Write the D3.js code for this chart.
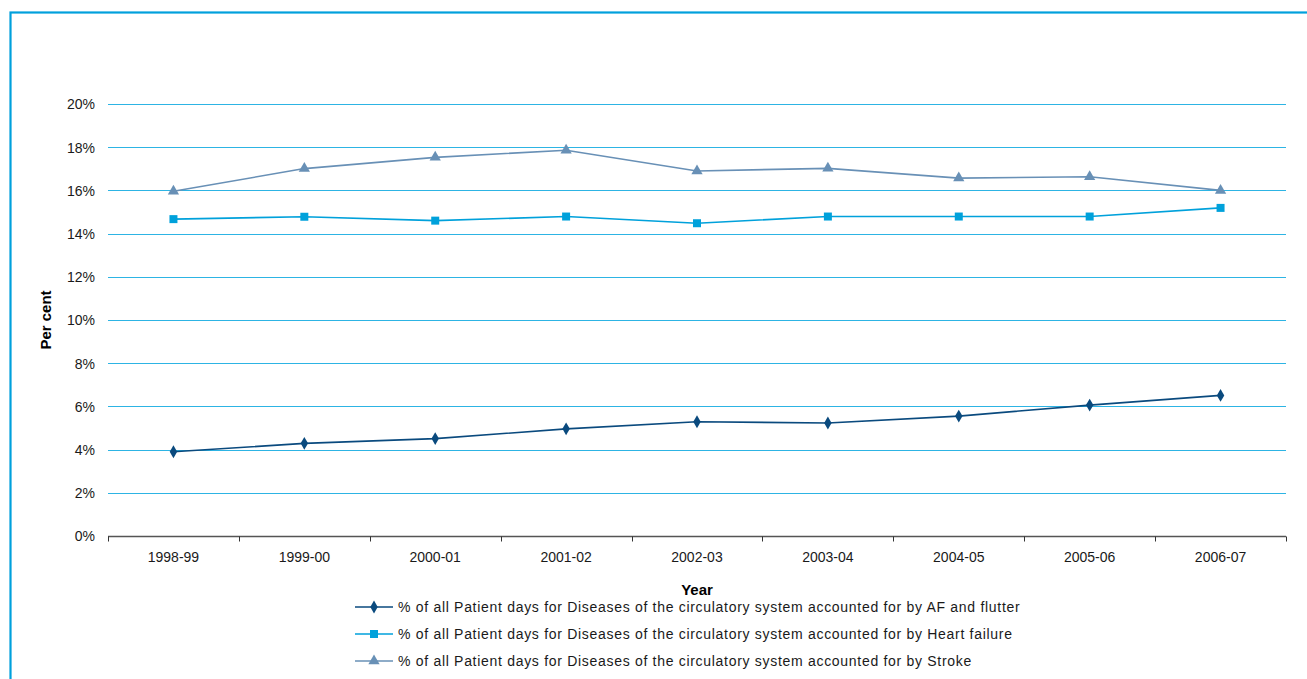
<!DOCTYPE html>
<html>
<head>
<meta charset="utf-8">
<script src="https://cdn.jsdelivr.net/npm/d3@7"></script>
<style>
  html, body { margin: 0; padding: 0; background: #ffffff; overflow: hidden; }
  svg { display: block; font-family: "Liberation Sans", Arial, sans-serif; }
</style>
</head>
<body>
<svg id="chart" width="1307" height="679"></svg>
<script>
// Financial years on the category axis
const years = ["1998-99", "1999-00", "2000-01", "2001-02", "2002-03", "2003-04", "2004-05", "2005-06", "2006-07"];

// Share (%) of all patient days for diseases of the circulatory system
const afFlutter    = [3.9, 4.29, 4.51, 4.96, 5.29, 5.23, 5.55, 6.06, 6.51];
const heartFailure = [14.67, 14.78, 14.6, 14.79, 14.48, 14.79, 14.79, 14.79, 15.19];
const stroke       = [15.96, 17.01, 17.53, 17.86, 16.9, 17.02, 16.57, 16.63, 16.0];

const yTicks = [0, 2, 4, 6, 8, 10, 12, 14, 16, 18, 20];

const seriesNames = [
  "% of all Patient days for Diseases of the circulatory system accounted for by AF and flutter",
  "% of all Patient days for Diseases of the circulatory system accounted for by Heart failure",
  "% of all Patient days for Diseases of the circulatory system accounted for by Stroke"
];

const series = [
  { name: seriesNames[0], values: afFlutter,    color: "#0A4A7E", symbol: d3.symbolDiamond,  size: 48 },
  { name: seriesNames[1], values: heartFailure, color: "#00A1DB", symbol: d3.symbolSquare,   size: 64 },
  { name: seriesNames[2], values: stroke,       color: "#6890B6", symbol: d3.symbolTriangle, size: 55 }
];

const svg = d3.select("#chart");

// Outer frame
svg.append("rect")
  .attr("x", 10.5).attr("y", 12.5)
  .attr("width", 1320).attr("height", 700)
  .attr("fill", "none")
  .attr("stroke", "#00A0DC")
  .attr("stroke-width", 2.2);

const plot = { left: 108, right: 1286, top: 104, bottom: 536 };

const x = d3.scaleBand().domain(years).range([plot.left, plot.right]).padding(0);
const y = d3.scaleLinear().domain([0, 20]).range([plot.bottom, plot.top]);

// Horizontal gridlines
svg.append("g")
  .selectAll("line")
  .data(yTicks.filter(t => t > 0))
  .join("line")
  .attr("x1", plot.left).attr("x2", plot.right)
  .attr("y1", d => Math.round(y(d)) + 0.5).attr("y2", d => Math.round(y(d)) + 0.5)
  .attr("stroke", "#2DB4E4")
  .attr("stroke-width", 1);

// Y axis labels (no axis line)
const yAxis = d3.axisLeft(y).tickValues(yTicks).tickFormat(d => d + "%").tickSize(0).tickPadding(0);
const yg = svg.append("g").attr("transform", `translate(${plot.left - 13},0)`).call(yAxis);
yg.select(".domain").remove();
yg.selectAll("text").attr("font-size", 14).attr("fill", "#1a1a1a")
  .attr("font-family", "Liberation Sans, Arial, sans-serif").attr("dy", "0.35em");

// X axis with ticks at category boundaries
const xg = svg.append("g").attr("transform", `translate(0,${plot.bottom + 0.5})`);
xg.append("line")
  .attr("x1", plot.left).attr("x2", plot.right)
  .attr("stroke", "#555").attr("stroke-width", 1.3);
const bounds = years.map(d => x(d)).concat([x(years[years.length - 1]) + x.bandwidth()]);
xg.selectAll("line.tick")
  .data(bounds)
  .join("line")
  .attr("class", "tick")
  .attr("x1", d => Math.round(d) + 0.5).attr("x2", d => Math.round(d) + 0.5)
  .attr("y1", 0).attr("y2", 5)
  .attr("stroke", "#333").attr("stroke-width", 1);
xg.selectAll("text")
  .data(years)
  .join("text")
  .attr("x", d => x(d) + x.bandwidth() / 2)
  .attr("y", 25)
  .attr("text-anchor", "middle")
  .attr("font-size", 14)
  .attr("fill", "#1a1a1a")
  .text(d => d);

// Axis titles
svg.append("text")
  .attr("transform", `translate(51,${(plot.top + plot.bottom) / 2}) rotate(-90)`)
  .attr("text-anchor", "middle")
  .attr("font-size", 15).attr("font-weight", "bold").attr("fill", "#000")
  .text("Per cent");
svg.append("text")
  .attr("x", 697).attr("y", 595)
  .attr("text-anchor", "middle")
  .attr("font-size", 15).attr("font-weight", "bold").attr("fill", "#000")
  .text("Year");

// Series lines and markers
const line = d3.line()
  .x((d, i) => x(years[i]) + x.bandwidth() / 2)
  .y(d => y(d));

series.forEach(s => {
  const g = svg.append("g");
  g.append("path")
    .datum(s.values)
    .attr("d", line)
    .attr("fill", "none")
    .attr("stroke", s.color)
    .attr("stroke-width", 1.6);
  g.selectAll("path.marker")
    .data(s.values)
    .join("path")
    .attr("class", "marker")
    .attr("transform", (d, i) => `translate(${x(years[i]) + x.bandwidth() / 2},${y(d)})`)
    .attr("d", d3.symbol().type(s.symbol).size(s.size))
    .attr("fill", s.color);
});

// Legend
const legend = svg.append("g");
series.forEach((s, i) => {
  const ly = 607 + i * 27;
  legend.append("line")
    .attr("x1", 355).attr("x2", 393)
    .attr("y1", ly).attr("y2", ly)
    .attr("stroke", s.color).attr("stroke-width", 1.6);
  legend.append("path")
    .attr("transform", `translate(374,${ly})`)
    .attr("d", d3.symbol().type(s.symbol).size(s.size))
    .attr("fill", s.color);
  legend.append("text")
    .attr("x", 398).attr("y", ly)
    .attr("dy", "0.35em")
    .attr("font-size", 14)
    .attr("letter-spacing", 0.7)
    .attr("fill", "#1a1a1a")
    .text(s.name);
});
</script>
</body>
</html>
